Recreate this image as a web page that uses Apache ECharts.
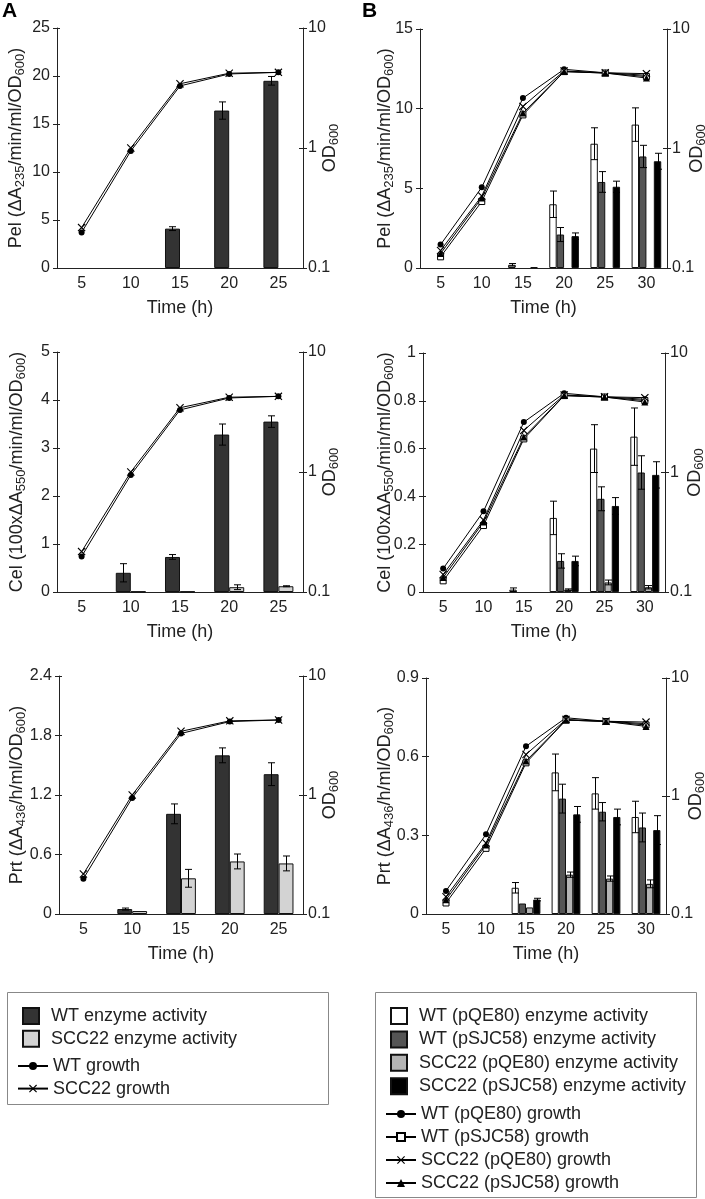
<!DOCTYPE html>
<html><head><meta charset="utf-8">
<script src="https://cdn.jsdelivr.net/npm/echarts@6/dist/echarts.min.js"></script>
<style>html,body{margin:0;padding:0;background:#fff}#c{width:705px;height:1199px}</style>
</head><body><div id="c"></div>
<script>
// ---------- categories ----------
const catsA = ['5', '10', '15', '20', '25'];
const catsB = ['5', '10', '15', '20', '25', '30'];

// ---------- Panel A growth (OD600, log axis) ----------
const growthA_WT = [0.198, 0.944, 3.29, 4.14, 4.27];
const growthA_SCC = [0.217, 1.0, 3.43, 4.2, 4.27];

// ---------- Panel A enzyme activities ----------
const pelA_WT = [0, 0, 4.1, 16.4, 19.5];
const pelA_WT_err = [0, 0, 0.2, 0.9, 0.45];
const pelA_SCC = [0, 0, 0, 0, 0];
const pelA_SCC_err = [0, 0, 0, 0, 0];

const celA_WT = [0, 0.4, 0.73, 3.28, 3.55];
const celA_WT_err = [0, 0.19, 0.05, 0.22, 0.12];
const celA_SCC = [0, 0.01, 0.01, 0.1, 0.12];
const celA_SCC_err = [0, 0, 0, 0.05, 0.01];

const prtA_WT = [0, 0.05, 1.01, 1.6, 1.41];
const prtA_WT_err = [0, 0.01, 0.1, 0.075, 0.115];
const prtA_SCC = [0, 0.03, 0.36, 0.53, 0.51];
const prtA_SCC_err = [0, 0, 0.09, 0.075, 0.075];

// ---------- Panel B growth ----------
const growthB_WTpQE = [0.157, 0.473, 2.64, 4.6, 4.3, 4.1];
const growthB_WTpSJ = [0.124, 0.36, 1.91, 4.4, 4.28, 4.0];
const growthB_SCCpQE = [0.14, 0.40, 2.25, 4.45, 4.3, 4.23];
const growthB_SCCpSJ = [0.132, 0.385, 1.98, 4.4, 4.28, 3.89];

// ---------- Panel B enzyme activities ----------
const pelB_WTpQE = [0, 0, 0.2, 4.0, 7.8, 9.0];
const pelB_WTpQE_err = [0, 0, 0.08, 0.83, 1.0, 1.05];
const pelB_WTpSJ = [0, 0, 0, 2.1, 5.4, 7.0];
const pelB_WTpSJ_err = [0, 0, 0, 0.44, 0.65, 0.7];
const pelB_SCCpQE = [0, 0, 0, 0, 0, 0];
const pelB_SCCpQE_err = [0, 0, 0, 0, 0, 0];
const pelB_SCCpSJ = [0, 0, 0.05, 2.0, 5.1, 6.7];
const pelB_SCCpSJ_err = [0, 0, 0, 0.2, 0.35, 0.5];

const celB_WTpQE = [0, 0, 0.01, 0.31, 0.6, 0.65];
const celB_WTpQE_err = [0, 0, 0.007, 0.07, 0.1, 0.12];
const celB_WTpSJ = [0, 0, 0, 0.13, 0.39, 0.5];
const celB_WTpSJ_err = [0, 0, 0, 0.03, 0.05, 0.07];
const celB_SCCpQE = [0, 0, 0, 0.01, 0.04, 0.02];
const celB_SCCpQE_err = [0, 0, 0, 0.003, 0.01, 0.007];
const celB_SCCpSJ = [0, 0, 0, 0.13, 0.36, 0.49];
const celB_SCCpSJ_err = [0, 0, 0, 0.02, 0.035, 0.055];

const prtB_WTpQE = [0, 0, 0.1, 0.54, 0.46, 0.37];
const prtB_WTpQE_err = [0, 0, 0.02, 0.07, 0.06, 0.06];
const prtB_WTpSJ = [0, 0, 0.04, 0.44, 0.39, 0.33];
const prtB_WTpSJ_err = [0, 0, 0, 0.055, 0.035, 0.055];
const prtB_SCCpQE = [0, 0, 0.025, 0.15, 0.135, 0.115];
const prtB_SCCpQE_err = [0, 0, 0, 0.01, 0.01, 0.015];
const prtB_SCCpSJ = [0, 0, 0.055, 0.38, 0.37, 0.32];
const prtB_SCCpSJ_err = [0, 0, 0.005, 0.03, 0.03, 0.055];

// ---------- names ----------
const N_A = ['WT enzyme activity', 'SCC22 enzyme activity', 'WT growth', 'SCC22 growth'];
const N_B = ['WT (pQE80) enzyme activity', 'WT (pSJC58) enzyme activity', 'SCC22 (pQE80) enzyme activity',
  'SCC22 (pSJC58) enzyme activity', 'WT (pQE80) growth', 'WT (pSJC58) growth', 'SCC22 (pQE80) growth', 'SCC22 (pSJC58) growth'];

const FONT = '"Liberation Sans", Arial, sans-serif';
const AX = '#222';
const XPATH = 'path://M0,1L1,0L5,4L9,0L10,1L6,5L10,9L9,10L5,6L1,10L0,9L4,5Z';

const colA = ['#333333', '#d3d3d3'];
const colB = ['#ffffff', '#555555', '#b4b4b4', '#000000'];

const growthA = [
  { name: N_A[2], values: growthA_WT, symbol: 'circle', size: 6, itemStyle: { color: '#000' } },
  { name: N_A[3], values: growthA_SCC, symbol: XPATH, size: 8, itemStyle: { color: '#000' } }
];
const growthB = [
  { name: N_B[4], values: growthB_WTpQE, symbol: 'circle', size: 6, itemStyle: { color: '#000' } },
  { name: N_B[5], values: growthB_WTpSJ, symbol: 'rect', size: 6, itemStyle: { color: '#fff', borderColor: '#000', borderWidth: 1 } },
  { name: N_B[6], values: growthB_SCCpQE, symbol: XPATH, size: 8, itemStyle: { color: '#000' } },
  { name: N_B[7], values: growthB_SCCpSJ, symbol: 'triangle', size: 7, itemStyle: { color: '#000' } }
];

function barsA(v1, e1, v2, e2) {
  return [
    { name: N_A[0], values: v1, err: e1, color: colA[0] },
    { name: N_A[1], values: v2, err: e2, color: colA[1] }
  ];
}
function barsB(arr) {
  return arr.map((a, i) => ({ name: N_B[i], values: a[0], err: a[1], color: colB[i] }));
}

const panels = [
  { g: [57, 28, 246, 240], cats: catsA, yMax: 25, yInt: 5, yn: ['Pel (ΔA', '235', '/min/ml/OD', '600', ')'], gapL: 30, gapR: 16, frac: 0.305,
    bars: barsA(pelA_WT, pelA_WT_err, pelA_SCC, pelA_SCC_err), growth: growthA },
  { g: [420, 29, 247, 239], cats: catsB, yMax: 15, yInt: 5, yn: ['Pel (ΔA', '235', '/min/ml/OD', '600', ')'], gapL: 24, gapR: 19, frac: 0.18,
    bars: barsB([[pelB_WTpQE, pelB_WTpQE_err], [pelB_WTpSJ, pelB_WTpSJ_err], [pelB_SCCpQE, pelB_SCCpQE_err], [pelB_SCCpSJ, pelB_SCCpSJ_err]]), growth: growthB },
  { g: [57, 352, 246, 240], cats: catsA, yMax: 5, yInt: 1, yn: ['Cel (100xΔA', '550', '/min/ml/OD', '600', ')'], gapL: 29, gapR: 16, frac: 0.305,
    bars: barsA(celA_WT, celA_WT_err, celA_SCC, celA_SCC_err), growth: growthA },
  { g: [423, 353, 242, 239], cats: catsB, yMax: 1, yInt: 0.2, yn: ['Cel (100xΔA', '550', '/min/ml/OD', '600', ')'], gapL: 27, gapR: 19, frac: 0.18,
    bars: barsB([[celB_WTpQE, celB_WTpQE_err], [celB_WTpSJ, celB_WTpSJ_err], [celB_SCCpQE, celB_SCCpQE_err], [celB_SCCpSJ, celB_SCCpSJ_err]]), growth: growthB },
  { g: [59, 676, 244, 238], cats: catsA, yMax: 2.4, yInt: 0.6, yn: ['Prt (ΔA', '436', '/h/ml/OD', '600', ')'], gapL: 31, gapR: 16, frac: 0.305,
    bars: barsA(prtA_WT, prtA_WT_err, prtA_SCC, prtA_SCC_err), growth: growthA },
  { g: [426, 678, 240, 236], cats: catsB, yMax: 0.9, yInt: 0.3, yn: ['Prt (ΔA', '436', '/h/ml/OD', '600', ')'], gapL: 30, gapR: 19, frac: 0.18,
    bars: barsB([[prtB_WTpQE, prtB_WTpQE_err], [prtB_WTpSJ, prtB_WTpSJ_err], [prtB_SCCpQE, prtB_SCCpQE_err], [prtB_SCCpSJ, prtB_SCCpSJ_err]]), growth: growthB }
];

function makeEB(n, frac) {
  return function (params, api) {
    const ci = api.value(0), si = api.value(1), v = api.value(2), e = api.value(3);
    const band = api.size([1, 0])[0];
    const bw = band * frac;
    const x = Math.round(api.coord([ci, v])[0] + (si - (n - 1) / 2) * bw) + 0.5;
    const yT = api.coord([ci, v + e])[1];
    const yB = api.coord([ci, Math.max(v - e, 0)])[1];
    const c = 3.5;
    const st = { stroke: '#000', lineWidth: 1 };
    return { type: 'group', children: [
      { type: 'line', shape: { x1: x, y1: yT, x2: x, y2: yB }, style: st },
      { type: 'line', shape: { x1: x - c, y1: yT, x2: x + c, y2: yT }, style: st },
      { type: 'line', shape: { x1: x - c, y1: yB, x2: x + c, y2: yB }, style: st }
    ] };
  };
}

const richName = {
  a: { fontSize: 18, lineHeight: 22, fontFamily: FONT, color: '#222' },
  s: { fontSize: 13, lineHeight: 13, verticalAlign: 'bottom', fontFamily: FONT, color: '#222' }
};

const option = { animation: false, backgroundColor: '#fff', grid: [], xAxis: [], yAxis: [], series: [], legend: [], graphic: [] };

panels.forEach((p, gi) => {
  option.grid.push({ left: p.g[0], top: p.g[1], width: p.g[2], height: p.g[3], containLabel: false, outerBoundsMode: 'none' });
  const xi = option.xAxis.length;
  option.xAxis.push({ gridIndex: gi, type: 'category', data: p.cats, boundaryGap: true, position: 'bottom',
    axisLine: { lineStyle: { color: AX, width: 1 } },
    axisTick: { length: 4, interval: 0, lineStyle: { color: AX } },
    axisLabel: { fontSize: 16, color: '#222', margin: 8, interval: 0, fontFamily: FONT },
    splitLine: { show: false },
    name: 'Time (h)', nameLocation: 'middle', nameGap: 31, nameMoveOverlap: false,
    nameTextStyle: { fontSize: 18, color: '#222', fontFamily: FONT } });
  option.xAxis.push({ gridIndex: gi, type: 'category', data: p.cats, boundaryGap: true, position: 'bottom',
    axisLine: { show: false }, axisTick: { inside: true, length: 4, interval: 0, lineStyle: { color: AX } },
    axisLabel: { show: false }, splitLine: { show: false } });
  const yl = option.yAxis.length;
  const nm = '{a|' + p.yn[0] + '}{s|' + p.yn[1] + '}{a|' + p.yn[2] + '}{s|' + p.yn[3] + '}{a|' + p.yn[4] + '}';
  option.yAxis.push({ gridIndex: gi, type: 'value', position: 'left', min: 0, max: p.yMax, interval: p.yInt,
    axisLine: { show: true, lineStyle: { color: AX, width: 1 } },
    axisTick: { show: true, length: 4, lineStyle: { color: AX } },
    axisLabel: { fontSize: 16, color: '#222', margin: 7, fontFamily: FONT },
    splitLine: { show: false },
    name: nm, nameLocation: 'middle', nameRotate: 90, nameGap: p.gapL, nameMoveOverlap: false,
    nameTextStyle: { rich: richName, fontSize: 18, fontFamily: FONT } });
  option.yAxis.push({ gridIndex: gi, type: 'value', position: 'left', min: 0, max: p.yMax, interval: p.yInt,
    axisLine: { show: false }, axisTick: { show: true, inside: true, length: 3, lineStyle: { color: AX } },
    axisLabel: { show: false }, splitLine: { show: false } });
  const yr = option.yAxis.length;
  option.yAxis.push({ gridIndex: gi, type: 'log', logBase: 10, position: 'right', min: 0.1, max: 10,
    axisLine: { show: true, lineStyle: { color: AX, width: 1 } },
    axisTick: { show: true, length: 4, lineStyle: { color: AX } },
    axisLabel: { fontSize: 16, color: '#222', margin: 5, fontFamily: FONT },
    splitLine: { show: false }, minorTick: { show: false },
    name: '{a|OD}{s|600}', nameLocation: 'middle', nameRotate: 90, nameGap: p.gapR, nameMoveOverlap: false,
    nameTextStyle: { rich: richName, fontSize: 18, fontFamily: FONT } });
  option.yAxis.push({ gridIndex: gi, type: 'log', logBase: 10, position: 'right', min: 0.1, max: 10,
    axisLine: { show: false }, axisTick: { show: true, inside: true, length: 4, lineStyle: { color: AX } },
    axisLabel: { show: false }, splitLine: { show: false } });

  // zero-valued bars are not drawn (no visible flat bar in the reference)
  p.bars.forEach(b => option.series.push({ type: 'bar', name: b.name, xAxisIndex: xi, yAxisIndex: yl,
    data: b.values.map(v => (v === 0 ? '-' : v)),
    barWidth: (p.frac * 100) + '%', barGap: '0%', silent: true, z: 2,
    itemStyle: { color: b.color, borderColor: '#111', borderWidth: 1 } }));

  const eb = [];
  p.bars.forEach((b, bi) => b.values.forEach((v, ci) => { if (b.err[ci] > 0) eb.push([ci, bi, v, b.err[ci]]); }));
  option.series.push({ type: 'custom', xAxisIndex: xi, yAxisIndex: yl, data: eb, encode: { x: 0, y: 2 },
    renderItem: makeEB(p.bars.length, p.frac), z: 3, silent: true });

  p.growth.forEach(gs => option.series.push({ type: 'line', name: gs.name, xAxisIndex: xi, yAxisIndex: yr, data: gs.values,
    symbol: gs.symbol, symbolSize: gs.size, itemStyle: gs.itemStyle, lineStyle: { color: '#000', width: 1 }, z: 4, silent: true }));
});

const SQ = 'path://M0,0H10V10H0Z';
const lgBase = { orient: 'vertical', padding: 0, selectedMode: false, itemWidth: 30,
  textStyle: { fontSize: 18, color: '#222', fontFamily: FONT } };
option.legend = [
  Object.assign({}, lgBase, { data: [N_A[0], N_A[1]], left: 22, top: 1007, itemHeight: 16, itemGap: 4.7, icon: SQ, symbolKeepAspect: true }),
  Object.assign({}, lgBase, { data: [N_A[2], N_A[3]], left: 17, top: 1057, itemHeight: 10, itemGap: 4.6 }),
  Object.assign({}, lgBase, { data: N_B.slice(0, 4), left: 390, top: 1007, itemHeight: 16, itemGap: 5.4, icon: SQ, symbolKeepAspect: true }),
  Object.assign({}, lgBase, { data: N_B.slice(4), left: 385, top: 1105, itemHeight: 10, itemGap: 5 })
];

option.graphic = [
  { type: 'text', x: 2, y: 1, style: { text: 'A', font: 'bold 21px ' + FONT, fill: '#000' } },
  { type: 'text', x: 362, y: 1, style: { text: 'B', font: 'bold 21px ' + FONT, fill: '#000' } },
  { type: 'rect', shape: { x: 7.5, y: 992.5, width: 321, height: 112 }, style: { fill: 'none', stroke: '#888', lineWidth: 1 } },
  { type: 'rect', shape: { x: 375.5, y: 992.5, width: 321, height: 205 }, style: { fill: 'none', stroke: '#888', lineWidth: 1 } }
];

const chart = echarts.init(document.getElementById('c'), null, { renderer: 'canvas' });
chart.setOption(option);
</script>
</body></html>
